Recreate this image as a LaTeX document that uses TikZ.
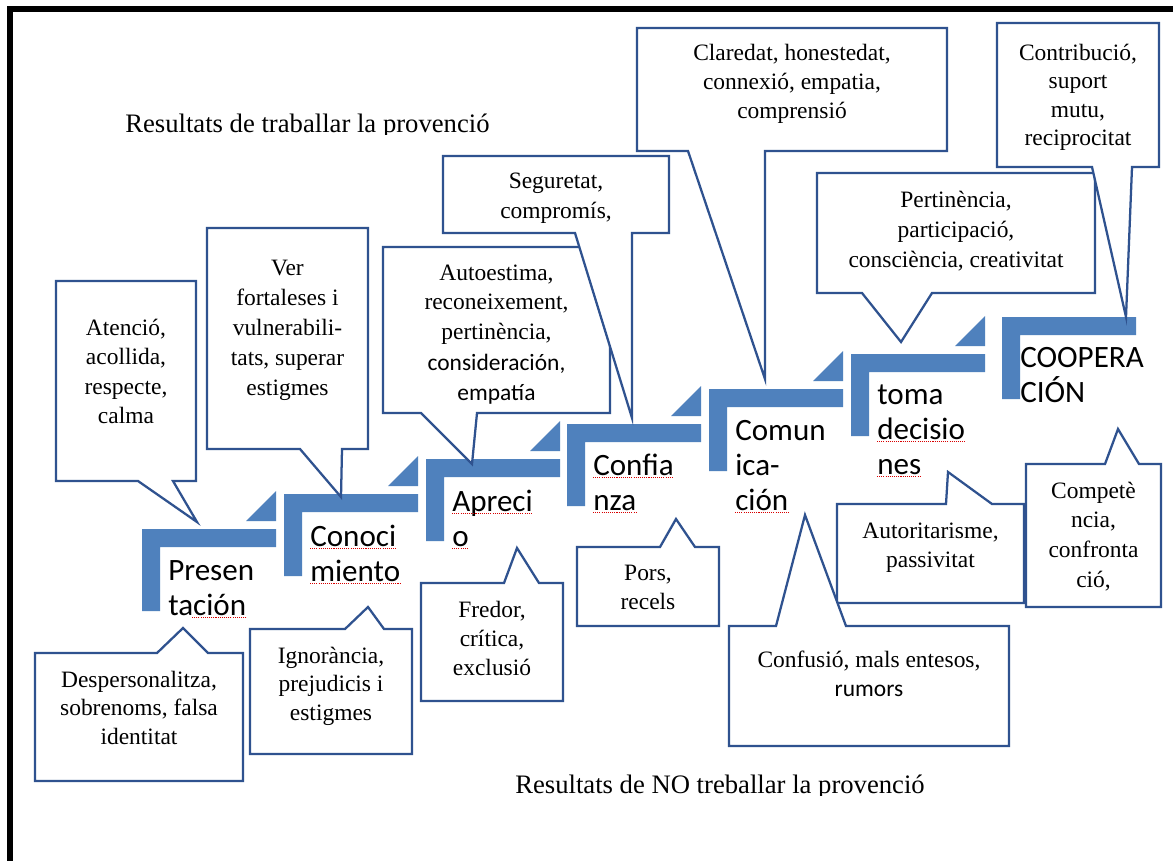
\documentclass[tikz,border=0pt]{standalone}
\usepackage{fontspec}
\setmainfont{Liberation Serif}
\newfontfamily\calfont{Carlito}
\definecolor{cdark}{RGB}{47,82,143}
\definecolor{cstep}{RGB}{79,129,189}
\tikzset{
 callout/.style={draw=cdark, fill=white, line width=1.7pt, line join=miter},
 stepfill/.style={fill=cstep},
 ctxt/.style={inner sep=0pt, anchor=base, font=\fontsize{17.6}{22}\selectfont},
 csans/.style={inner sep=0pt, anchor=base, font=\calfont\fontsize{17.6}{22}\selectfont},
 stxt/.style={inner sep=0pt, anchor=base west, font=\calfont\fontsize{23.3}{27}\selectfont},
 ttxt/.style={inner sep=0pt, anchor=base west, font=\fontsize{20}{24}\selectfont},
 squig/.style={red!85!black, line width=0.6pt, dash pattern=on 0.8pt off 0.8pt},
 frameline/.style={fill=black},
}
\newcommand\mlines[6]{\foreach \ln [count=\k from 0] in {#6}{\node[#2] (#1-\k) at (#3,{#4+\k*#5}) {\ln};}}
\newcommand\stepL[2]{\fill[stepfill] (#1,#2) -- ++(134,0) -- ++(0,18) -- ++(-116,0) -- ++(0,64) -- ++(-18,0) -- cycle;}
\newcommand\stepT[2]{\fill[stepfill] ({#1+104},{#2-8}) -- ({#1+134},{#2-8}) -- ({#1+134},{#2-38}) -- cycle;}
\newcommand\sq[1]{\draw[squig] ([yshift=-2pt]#1.base west) -- ([yshift=-2pt]#1.base east);}
\begin{document}
\begin{tikzpicture}[x=0.75pt,y=-0.75pt]
\useasboundingbox (0,0) rectangle (1173,861);
\fill[white] (0,0) rectangle (1173,861);
% frame
\fill[frameline] (7,6) rectangle (1173,12);
\fill[frameline] (7,6) rectangle (13,861);
% steps
\stepL{142}{529}\stepT{142}{529}
\stepL{284}{494}\stepT{284}{494}
\stepL{426}{459}\stepT{426}{459}
\stepL{567}{424}\stepT{567}{424}
\stepL{709}{389}\stepT{709}{389}
\stepL{851}{354}\stepT{851}{354}
\stepL{1002}{317}
% titles (clipped at bottom as in the original)
\begin{scope}
\clip (100,90) rectangle (560,134);
\node[ttxt] (title1) at (125,132) {Resultats de traballar la provenció};
\end{scope}
\begin{scope}
\clip (480,760) rectangle (980,795);
\node[ttxt] (title2) at (515,793) {Resultats de NO treballar la provenció};
\end{scope}
% upper callouts
\draw[callout] (56,281) -- (196,281) -- (196,481) -- (173,481) -- (197,522) -- (138,481) -- (56,481) -- cycle;
\draw[callout] (207,228) -- (368,228) -- (368,449) -- (342,449) -- (341,497) -- (300,449) -- (207,449) -- cycle;
\draw[callout] (383,247) -- (610,247) -- (610,413) -- (477,413) -- (472,464) -- (421,413) -- (383,413) -- cycle;
\draw[callout] (443,156) -- (669,156) -- (669,233) -- (632,233) -- (632,418) -- (575,233) -- (443,233) -- cycle;
\draw[callout] (637,28) -- (947,28) -- (947,151) -- (765,151) -- (765,379) -- (688,151) -- (637,151) -- cycle;
\draw[callout] (817,173) -- (1095,173) -- (1095,293) -- (932,293) -- (901,342) -- (862,293) -- (817,293) -- cycle;
\draw[callout] (997,23) -- (1159,23) -- (1159,167) -- (1132,167) -- (1126,317) -- (1092,167) -- (997,167) -- cycle;
% lower callouts
\draw[callout] (35,653) -- (157,653) -- (183,628) -- (208,653) -- (243,653) -- (243,781) -- (35,781) -- cycle;
\draw[callout] (250,629) -- (345,629) -- (368,607) -- (384,629) -- (412,629) -- (412,754) -- (250,754) -- cycle;
\draw[callout] (421,583) -- (504,583) -- (517,548) -- (539,583) -- (563,583) -- (563,701) -- (421,701) -- cycle;
\draw[callout] (577,547) -- (660,547) -- (676,519) -- (695,547) -- (719,547) -- (719,626) -- (577,626) -- cycle;
\draw[callout] (837,504) -- (946,504) -- (948,472) -- (992,504) -- (1024,504) -- (1024,603) -- (837,603) -- cycle;
\draw[callout] (1026,464) -- (1105,464) -- (1118,429) -- (1139,464) -- (1161,464) -- (1161,607) -- (1026,607) -- cycle;
\draw[callout] (729,626) -- (776,626) -- (805,515) -- (846,626) -- (1009,626) -- (1009,746) -- (729,746) -- cycle;
% callout texts
\mlines{aten}{ctxt}{126}{335}{29.5}{{Atenció,},{acollida,},{respecte,},{calma}}
\mlines{ver}{ctxt}{287.5}{275}{30}{{Ver},{fortaleses i},{vulnerabili-},{tats, superar},{estigmes}}
\mlines{auto}{ctxt}{496.5}{280}{29.8}{{Autoestima,},{reconeixement,},{pertinència,}}
\begin{scope}
\clip (383,247) rectangle (610,403);
\mlines{autob}{csans}{496.5}{370}{30}{{consideración,},{empatía}}
\end{scope}
\mlines{segu}{ctxt}{556}{188}{30}{{Seguretat,},{compromís,}}
\mlines{clar}{ctxt}{792}{60}{29}{{Claredat, honestedat,},{connexió, empatia,},{comprensió}}
\mlines{pert}{ctxt}{956}{207}{30}{{Pertinència,},{participació,},{consciència, creativitat}}
\mlines{contr}{ctxt}{1078}{60}{28.5}{{Contribució,},{suport},{mutu,},{reciprocitat}}
\mlines{desp}{ctxt}{139}{687}{28.5}{{Despersonalitza,},{sobrenoms, falsa},{identitat}}
\mlines{ign}{ctxt}{331}{663}{28.5}{{Ignorància,},{prejudicis i},{estigmes}}
\mlines{fred}{ctxt}{492}{617}{29}{{Fredor,},{crítica,},{exclusió}}
\mlines{pors}{ctxt}{648}{580}{29}{{Pors,},{recels}}
\node[ctxt] (confu-0) at (869,667) {Confusió, mals entesos,};
\node[csans] (confu-1) at (869,696) {rumors};
\mlines{autor}{ctxt}{930.5}{538}{29}{{Autoritarisme,},{passivitat}}
\mlines{comp}{ctxt}{1093.5}{498}{29.7}{{Competè},{ncia,},{confronta},{ció,}}
% step labels
\mlines{pres}{stxt}{168}{580}{35}{{Presen},{tación}}
\mlines{conoc}{stxt}{310}{546}{35}{{Conoci},{miento}}
\mlines{apre}{stxt}{452}{511}{35}{{Apreci},{o}}
\mlines{conf}{stxt}{593}{475}{35}{{Confia},{nza}}
\mlines{comu}{stxt}{735}{440}{35}{{Comun},{ica-},{ción}}
\mlines{toma}{stxt}{877}{404}{35}{{toma},{decisio},{nes}}
\mlines{coop}{stxt}{1020}{367}{35}{{COOPERA},{CIÓN}}
% spelling marks
\draw[squig] ([yshift=-2pt]pres-1.base east) -- ([yshift=-2pt,xshift=-41pt]pres-1.base east);
\sq{conoc-0}\sq{conoc-1}\sq{apre-0}\sq{apre-1}\sq{conf-0}\sq{conf-1}\sq{comu-2}\sq{toma-1}\sq{toma-2}
\end{tikzpicture}
\end{document}
